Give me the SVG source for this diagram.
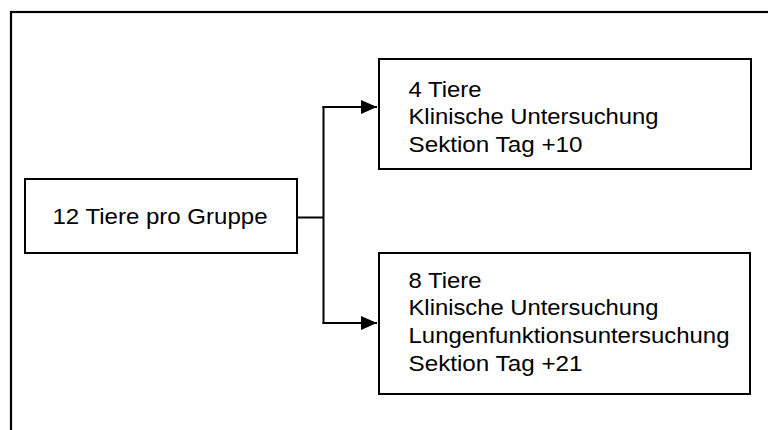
<svg xmlns="http://www.w3.org/2000/svg" width="768" height="430" viewBox="0 0 768 430">
  <style>
    .frame { fill: none; stroke: #000; stroke-width: 2.2; }
    .box { fill: #fff; stroke: #000; stroke-width: 2; }
    .lbl { font-family: "Liberation Sans", Arial, sans-serif; font-size: 22px; fill: #000; }
    .wire { fill: none; stroke: #000; stroke-width: 2; }
  </style>
  <defs>
    <marker id="arrow" viewBox="0 0 16 14" refX="16" refY="7" markerWidth="16" markerHeight="14" markerUnits="userSpaceOnUse" orient="auto">
      <path d="M0,0 L16,7 L0,14 Z" fill="#000"/>
    </marker>
  </defs>

  <rect width="768" height="430" fill="#fff"/>
  <!-- outer frame, runs past the right and bottom edges -->
  <rect class="frame" x="11" y="12" width="770" height="440"/>

  <g id="connectors">
    <path class="wire" d="M297,217.5 H323.5"/>
    <path class="wire" d="M323.5,106 V324"/>
    <path class="wire" d="M322.5,107 H377" marker-end="url(#arrow)"/>
    <path class="wire" d="M322.5,323 H377" marker-end="url(#arrow)"/>
  </g>

  <g id="group-all">
    <rect class="box" x="25" y="179" width="272" height="74"/>
    <text class="lbl" x="52.5" y="224.3" textLength="215" lengthAdjust="spacingAndGlyphs">12 Tiere pro Gruppe</text>
  </g>

  <g id="group-day10">
    <rect class="box" x="379" y="59" width="372" height="110"/>
    <text class="lbl" x="408.5" y="96.7" textLength="73" lengthAdjust="spacingAndGlyphs">4 Tiere</text>
    <text class="lbl" x="408.5" y="124.3" textLength="250" lengthAdjust="spacingAndGlyphs">Klinische Untersuchung</text>
    <text class="lbl" x="408.5" y="151.9" textLength="174" lengthAdjust="spacingAndGlyphs">Sektion Tag +10</text>
  </g>

  <g id="group-day21">
    <rect class="box" x="379" y="253" width="371" height="141"/>
    <text class="lbl" x="408.5" y="287.7" textLength="73" lengthAdjust="spacingAndGlyphs">8 Tiere</text>
    <text class="lbl" x="408.5" y="315.3" textLength="250" lengthAdjust="spacingAndGlyphs">Klinische Untersuchung</text>
    <text class="lbl" x="408.5" y="342.9" textLength="321" lengthAdjust="spacingAndGlyphs">Lungenfunktionsuntersuchung</text>
    <text class="lbl" x="408.5" y="370.5" textLength="174" lengthAdjust="spacingAndGlyphs">Sektion Tag +21</text>
  </g>
</svg>
